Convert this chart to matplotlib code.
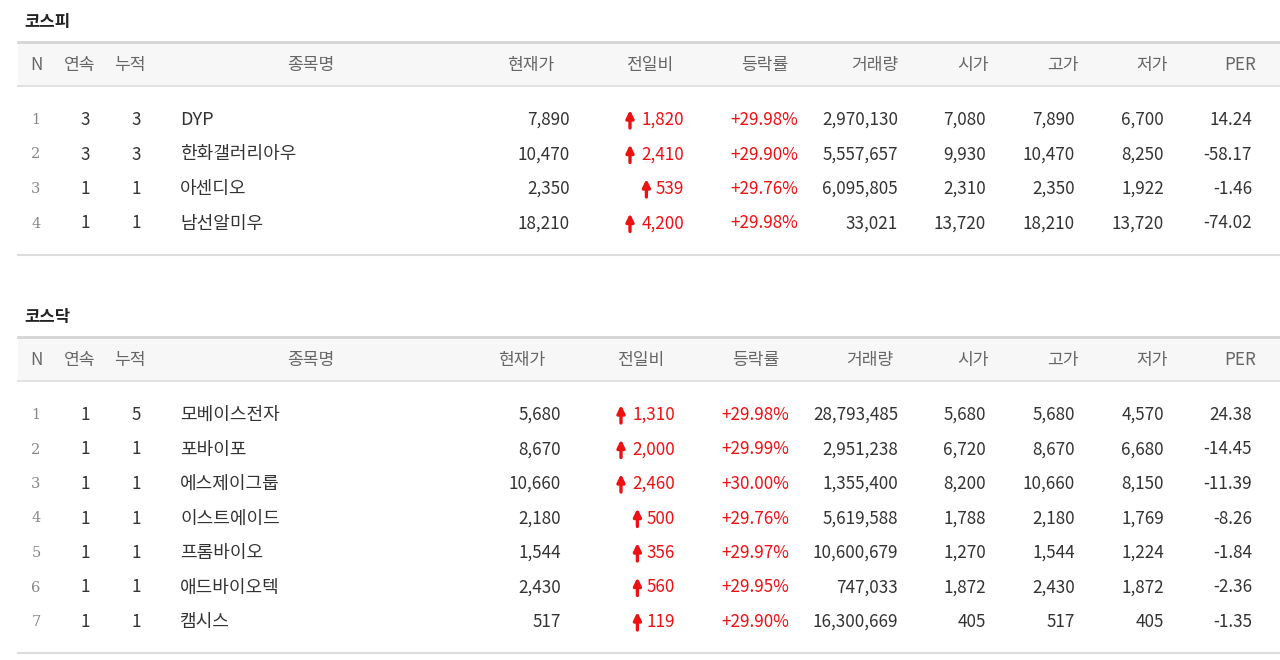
import matplotlib
matplotlib.use("Agg")
import matplotlib.pyplot as plt

plt.rcParams['font.family'] = ['Noto Sans CJK KR', 'DejaVu Sans']

headers = ["N", "연속", "누적", "종목명", "현재가", "전일비", "등락률", "거래량", "시가", "고가", "저가", "PER"]

kospi_title = "코스피"
kospi_streak = [3, 3, 1, 1]
kospi_cum = [3, 3, 1, 1]
kospi_names = ["DYP", "한화갤러리아우", "아센디오", "남선알미우"]
kospi_price = ["7,890", "10,470", "2,350", "18,210"]
kospi_change = ["1,820", "2,410", "539", "4,200"]
kospi_rate = ["+29.98%", "+29.90%", "+29.76%", "+29.98%"]
kospi_volume = ["2,970,130", "5,557,657", "6,095,805", "33,021"]
kospi_open = ["7,080", "9,930", "2,310", "13,720"]
kospi_high = ["7,890", "10,470", "2,350", "18,210"]
kospi_low = ["6,700", "8,250", "1,922", "13,720"]
kospi_per = ["14.24", "-58.17", "-1.46", "-74.02"]

kosdaq_title = "코스닥"
kosdaq_streak = [1, 1, 1, 1, 1, 1, 1]
kosdaq_cum = [5, 1, 1, 1, 1, 1, 1]
kosdaq_names = ["모베이스전자", "포바이포", "에스제이그룹", "이스트에이드", "프롬바이오", "애드바이오텍", "캠시스"]
kosdaq_price = ["5,680", "8,670", "10,660", "2,180", "1,544", "2,430", "517"]
kosdaq_change = ["1,310", "2,000", "2,460", "500", "356", "560", "119"]
kosdaq_rate = ["+29.98%", "+29.99%", "+30.00%", "+29.76%", "+29.97%", "+29.95%", "+29.90%"]
kosdaq_volume = ["28,793,485", "2,951,238", "1,355,400", "5,619,588", "10,600,679", "747,033", "16,300,669"]
kosdaq_open = ["5,680", "6,720", "8,200", "1,788", "1,270", "1,872", "405"]
kosdaq_high = ["5,680", "8,670", "10,660", "2,180", "1,544", "2,430", "517"]
kosdaq_low = ["4,570", "6,680", "8,150", "1,769", "1,224", "1,872", "405"]
kosdaq_per = ["24.38", "-14.45", "-11.39", "-8.26", "-1.84", "-2.36", "-1.35"]

fig = plt.figure(figsize=(12.8, 6.6), dpi=100)
ax = fig.add_axes([0, 0, 1, 1])
ax.set_xlim(0, 1280)
ax.set_ylim(660, 0)
ax.axis('off')

FS = 12.3
TXT = '#333333'
HDR = '#666666'
RED = '#ee1111'


def section(top, title, streak, cum, names, price, change, rate, volume, opn, high, low, per, shift):
    ax.text(24, top - 20, title, fontsize=12, fontweight='bold', color='#222222', va='center')
    htop, hbot = top, top + 44
    ax.fill_between([18, 1280], htop, hbot, color='#f7f7f7', lw=0)
    ax.plot([18, 1280], [htop, htop], color='#d4d4d4', lw=2)
    ax.plot([18, 1280], [hbot, hbot], color='#dddddd', lw=1.2)
    hc = [36, 80, 130, 311, 531 - shift, 650 - shift, 765 - shift, 875 - 5 * (shift > 0), 973, 1063, 1152, 1240]
    hy = (htop + hbot) / 2 + 1
    for x, h in zip(hc, headers):
        ax.text(x, hy, h, fontsize=FS, color=HDR, ha='center', va='center')
    n = len(names)
    y0 = hbot + 34
    step = 34.5
    for i in range(n):
        y = y0 + i * step
        ax.text(36, y, str(i + 1), fontsize=10.5, color='#888888', ha='center', va='center', family='DejaVu Serif')
        ax.text(85, y, str(streak[i]), fontsize=FS, color=TXT, ha='center', va='center')
        ax.text(136, y, str(cum[i]), fontsize=FS, color=TXT, ha='center', va='center')
        ax.text(180, y, names[i], fontsize=FS + 0.7, color=TXT, ha='left', va='center')
        ax.text(570 - shift, y, price[i], fontsize=FS, color=TXT, ha='right', va='center')
        xr = 684 - shift
        ax.text(xr, y, change[i], fontsize=FS, color=RED, ha='right', va='center')
        ax_x = xr - len(change[i]) * 8.2 - 13
        ax.annotate('', xy=(ax_x, y - 10), xytext=(ax_x, y + 8),
                    arrowprops=dict(arrowstyle='-|>,head_width=0.22,head_length=0.45', color=RED, lw=2.4,
                                    shrinkA=0, shrinkB=0))
        ax.text(798 - shift, y, rate[i], fontsize=FS, color=RED, ha='right', va='center')
        ax.text(898, y, volume[i], fontsize=FS, color=TXT, ha='right', va='center')
        ax.text(986, y, opn[i], fontsize=FS, color=TXT, ha='right', va='center')
        ax.text(1075, y, high[i], fontsize=FS, color=TXT, ha='right', va='center')
        ax.text(1164, y, low[i], fontsize=FS, color=TXT, ha='right', va='center')
        ax.text(1252, y, per[i], fontsize=FS, color=TXT, ha='right', va='center')
    bot = y0 + (n - 1) * step + 31
    ax.plot([18, 1280], [bot, bot], color='#dddddd', lw=1.5)


section(42, kospi_title, kospi_streak, kospi_cum, kospi_names, kospi_price, kospi_change,
        kospi_rate, kospi_volume, kospi_open, kospi_high, kospi_low, kospi_per, 0)
section(337, kosdaq_title, kosdaq_streak, kosdaq_cum, kosdaq_names, kosdaq_price, kosdaq_change,
        kosdaq_rate, kosdaq_volume, kosdaq_open, kosdaq_high, kosdaq_low, kosdaq_per, 9)

fig.savefig('out.png', dpi=100, facecolor='white')
